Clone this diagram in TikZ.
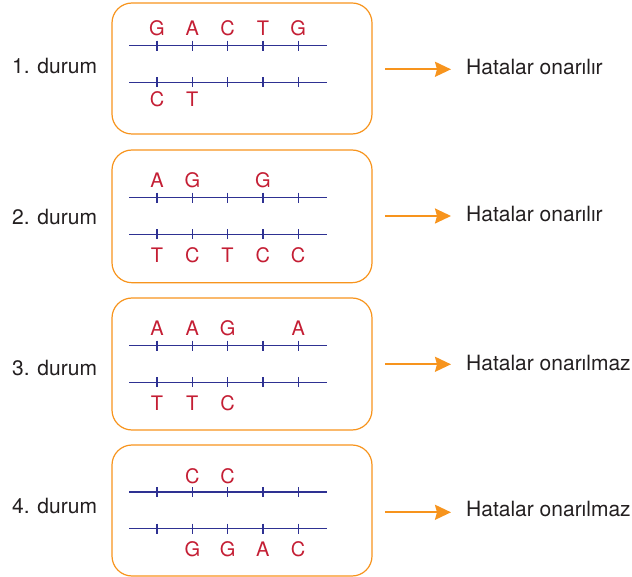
\documentclass[tikz,border=0pt]{standalone}
\usepackage{fontspec}
\setmainfont{TeX Gyre Heros}
\usetikzlibrary{arrows.meta}
\definecolor{boxorange}{RGB}{247,148,29}
\definecolor{strandblue}{RGB}{46,49,146}
\definecolor{basered}{RGB}{196,30,52}
\definecolor{txtgray}{RGB}{35,31,32}
\begin{document}
\begin{tikzpicture}[x=1pt,y=-1pt,
  panel/.style={draw=boxorange, line width=1.2pt, rounded corners=20pt,
    minimum width=260pt, inner sep=0pt},
  strand/.style={draw=strandblue, line width=1.4pt},
  tick/.style={draw=strandblue, line width=1.3pt},
  nucl/.style={text=basered, font=\fontsize{20}{24}\selectfont, inner sep=0pt, anchor=base},
  lbl/.style={text=txtgray, font=\fontsize{21}{25}\selectfont, inner sep=0pt, anchor=base west},
  arr/.style={draw=boxorange, line width=2pt, shorten >=15pt,
    -{Stealth[length=16pt,width=15pt,inset=2pt]}}]
\useasboundingbox (0,0) rectangle (632,577);
\foreach \i/\T/\B/\Ly/\Ut/\Db/\Lb/\Rb/\Ay/\up/\down/\res in {
  1/3/134/45.7/35.8/107/73.3/74.7/69.3/{0/G,1/A,2/C,3/T,4/G}/{0/C,1/T}/onarılır,
  2/150/282.7/197.7/187.7/262.3/224.3/221.7/216/{0/A,1/G,3/G}/{0/T,1/C,2/T,3/C,4/C}/onarılır,
  3/298/430/345.7/335.7/410/375/370.7/364.3/{0/A,1/A,2/G,4/A}/{0/T,1/T,2/C}/onarılmaz,
  4/445/576/492/483.3/556.7/513.3/516.7/512.3/{1/C,2/C}/{1/G,2/G,3/A,4/C}/onarılmaz}{
  \pgfmathsetmacro{\H}{\B-\T}
  \pgfmathsetmacro{\Cy}{(\B+\T)/2}
  \pgfmathsetmacro{\Lz}{\Ly+36.6}
  \node[panel, minimum height=\H pt] (b\i) at (242,\Cy) {};
  \node[lbl] (l\i) at (12,\Lb) {\i. durum};
  \node[lbl] (r\i) at (466,\Rb) {Hatalar \res};
  \coordinate (s\i) at (385,\Ay);
  \draw[arr] (s\i) -- (s\i -| r\i.west);
  \draw[strand] (129,\Ly) -- (327,\Ly);
  \draw[strand] (129,\Lz) -- (327,\Lz);
  \foreach \k in {0,...,4}{
    \draw[tick] (157+35.3*\k,\Ly-5) -- ++(0,10);
    \draw[tick] (157+35.3*\k,\Lz-5) -- ++(0,10);
  }
  \foreach \p/\L in \up {\node[nucl] (u\i\p) at (157+35.3*\p,\Ut) {\L};}
  \foreach \p/\L in \down {\node[nucl] (d\i\p) at (157+35.3*\p,\Db) {\L};}
}
\end{tikzpicture}
\end{document}
